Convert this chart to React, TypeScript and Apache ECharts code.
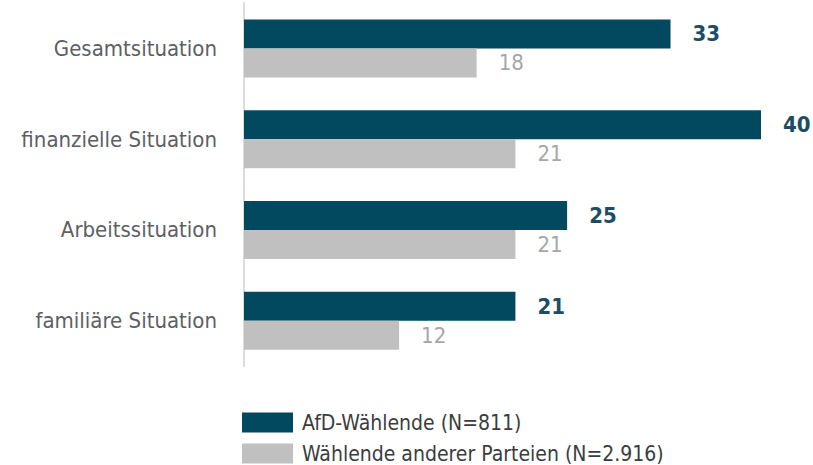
import React, { useEffect, useRef } from "react";
import * as echarts from "echarts";

const categories = ["Gesamtsituation", "finanzielle Situation", "Arbeitssituation", "familiäre Situation"];
const afdValues = [33, 40, 25, 21];
const otherValues = [18, 21, 21, 12];
const seriesNames = ["AfD-Wählende (N=811)", "Wählende anderer Parteien (N=2.916)"];

const FONT = "'Liberation Sans Narrow', 'DejaVu Sans Condensed', 'Roboto', sans-serif";

const legendBase = {
  orient: "horizontal",
  left: 242,
  padding: 0,
  itemWidth: 51,
  itemHeight: 20,
  icon: "rect",
  textStyle: { fontFamily: FONT, fontSize: 21, lineHeight: 20, color: "#3a3d40", padding: [0, 0, 0, 4] },
};

export default function App() {
  const ref = useRef<HTMLDivElement>(null);
  useEffect(() => {
    if (!ref.current) return;
    const chart = echarts.init(ref.current, null, { renderer: "svg" });
    chart.setOption({
      animation: false,
      textStyle: { fontFamily: FONT },
      grid: { left: 244, right: 52, top: 3, height: 363, containLabel: false },
      legend: [
        { ...legendBase, top: 412, data: [seriesNames[0]] },
        { ...legendBase, top: 443, data: [seriesNames[1]] },
      ],
      xAxis: {
        type: "value",
        min: 0,
        max: 40,
        show: false,
      },
      yAxis: {
        type: "category",
        inverse: true,
        data: categories,
        axisLine: { show: true, lineStyle: { color: "#dcdcdc", width: 2 } },
        axisTick: { show: false },
        axisLabel: { margin: 27, fontFamily: FONT, fontSize: 22, color: "#5c6064" },
      },
      series: [
        {
          name: seriesNames[0],
          type: "bar",
          data: afdValues,
          barWidth: 29,
          barGap: "0%",
          itemStyle: { color: "#02495f" },
          label: {
            show: true,
            position: "right",
            distance: 22,
            fontFamily: FONT,
            fontSize: 22,
            fontWeight: "bold",
            color: "#1d4d63",
          },
        },
        {
          name: seriesNames[1],
          type: "bar",
          data: otherValues,
          barWidth: 29,
          barGap: "0%",
          itemStyle: { color: "#c0c0c0" },
          label: {
            show: true,
            position: "right",
            distance: 22,
            fontFamily: FONT,
            fontSize: 22,
            color: "#a6a6a6",
          },
        },
      ],
    });
    return () => chart.dispose();
  }, []);
  return <div ref={ref} style={{ width: 813, height: 465, position: "absolute", left: 0, top: 0 }} />;
}
